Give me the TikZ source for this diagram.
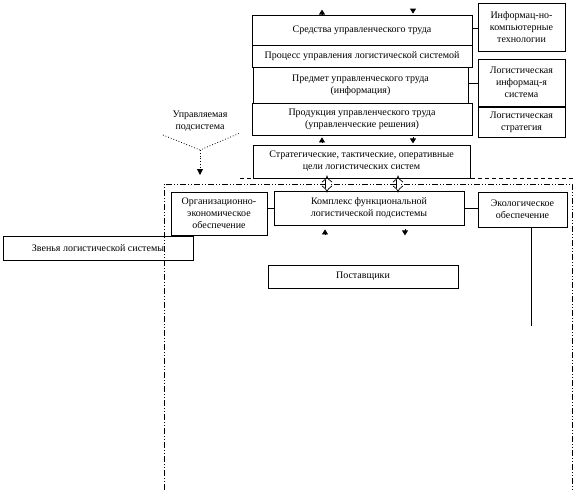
\documentclass[tikz,border=0pt]{standalone}
\usepackage{fontspec}
\setmainfont{Liberation Serif}
\usepackage{tikz}
\usetikzlibrary{arrows.meta,calc}
\definecolor{SInk}{HTML}{000000}
\tikzset{
  sbox/.style={draw=SInk,line width=0.8pt,align=center,inner sep=1pt,
               font=\fontsize{10}{12}\selectfont},
  slink/.style={draw=SInk,line width=0.8pt},
  stip/.style={draw=SInk,line width=0.8pt,-{Triangle[length=5pt,width=6pt]}},
  sdbl/.style={draw=SInk,line width=0.7pt,double distance=3pt,
               {Implies[length=3.5pt]}-{Implies[length=3.5pt]}},
  sframe/.style={draw=SInk,line width=0.8pt,
                 dash pattern=on 6pt off 2pt on 1pt off 2pt on 1pt off 2pt},
}
\begin{document}
\begin{tikzpicture}[x=1pt,y=-1pt]
  \useasboundingbox (0,0) rectangle (575,490);
  % управляющая часть
  \node[sbox,minimum width=220,minimum height=30] (means) at (362,30)
    {Средства управленческого труда};
  \node[sbox,minimum width=220,minimum height=22] (process) at (362,56)
    {Процесс управления логистической системой};
  \node[sbox,minimum width=215,minimum height=36] (subject) at (360.5,85)
    {Предмет управленческого труда\\(информация)};
  \node[sbox,minimum width=220,minimum height=32] (product) at (362,119)
    {Продукция управленческого труда\\(управленческие решения)};
  \node[sbox,text width=85,minimum width=87,minimum height=48] (itech) at (521.5,27)
    {Информац-но-\\компьютерные\\технологии};
  \node[sbox,text width=85,minimum width=87,minimum height=47] (lis) at (521.5,82.5)
    {Логистическая\\информац-я\\система};
  \node[sbox,text width=85,minimum width=87,minimum height=30] (strat) at (521.5,122)
    {Логистическая\\стратегия};
  \node[sbox,minimum width=217,minimum height=33] (goals) at (361.5,161.5)
    {Стратегические, тактические, оперативные\\цели логистических систем};
  % управляемая подсистема
  \node[font=\fontsize{10}{12}\selectfont,align=center] (ctrl) at (200,121)
    {Управляемая\\подсистема};
  \node[sbox,text width=94,minimum width=96,minimum height=43] (orgecon) at (219,213.5)
    {Организационно-\\экономическое\\обеспечение};
  \node[sbox,minimum width=190,minimum height=34] (complex) at (369,208)
    {Комплекс функциональной\\логистической подсистемы};
  \node[sbox,text width=87,minimum width=89,minimum height=35] (ecology) at (522.5,209.5)
    {Экологическое\\обеспечение};
  \node[sbox,minimum width=190,minimum height=24] (links) at (98,248)
    {Звенья логистической системы};
  \node[sbox,minimum width=190,minimum height=23] (suppliers) at (363,276.5)
    {Поставщики};

  \coordinate (colA) at (322,0);
  \coordinate (colB) at (413,0);
  \coordinate (colC) at (325,0);
  \coordinate (colD) at (405,0);
  \coordinate (colE) at (327,0);
  \coordinate (colF) at (398,0);
  \coordinate (ctrlL) at (163,135);
  \coordinate (ctrlR) at (240,133);
  \coordinate (fork) at (200,150);
  \coordinate (ctrlend) at (200,175);
  \coordinate (ecoend) at (531,326);

  \draw[sframe] (164,490) -- (164,184) -- (572,184) -- (572,490);
  \draw[draw=SInk,line width=0.8pt,dash pattern=on 4pt off 3pt] (240,178) -- (575,178);

  \draw[slink] (means.east |- 0,28) -- (itech.west |- 0,28);
  \draw[slink] (subject.east |- 0,83) -- (lis.west |- 0,83);
  \draw[slink] (orgecon.east |- complex.west) -- (complex.west);
  \draw[slink] (complex.east) -- (ecology.west |- complex.east);
  \draw[slink] (ecoend |- ecology.south) -- (ecoend);

  \draw[stip] (colA |- means.north) -- ++(0,-5);
  \draw[stip] ($(colB |- means.north)+(0,-6)$) -- ++(0,5);
  \draw[stip] ($(colA |- product.south)+(0,8)$) -- ++(0,-6);
  \draw[stip] ($(colB |- product.south)+(0,2)$) -- ++(0,6);
  \draw[stip] ($(colC |- complex.south)+(0,10)$) -- ++(0,-6);
  \draw[stip] ($(colD |- complex.south)+(0,4)$) -- ++(0,6);

  \draw[sdbl] ($(colE |- goals.south)+(0,-3)$) -- ($(colE |- complex.north)+(0,2)$);
  \draw[sdbl] ($(colF |- goals.south)+(0,-3)$) -- ($(colF |- complex.north)+(0,2)$);

  \draw[draw=SInk,line width=0.8pt,dotted] (ctrlL) -- (fork) -- (ctrlR);
  \draw[draw=SInk,line width=0.8pt,dotted,-{Triangle[length=6pt,width=6pt]}]
    (fork) -- (ctrlend);
\end{tikzpicture}
\end{document}
